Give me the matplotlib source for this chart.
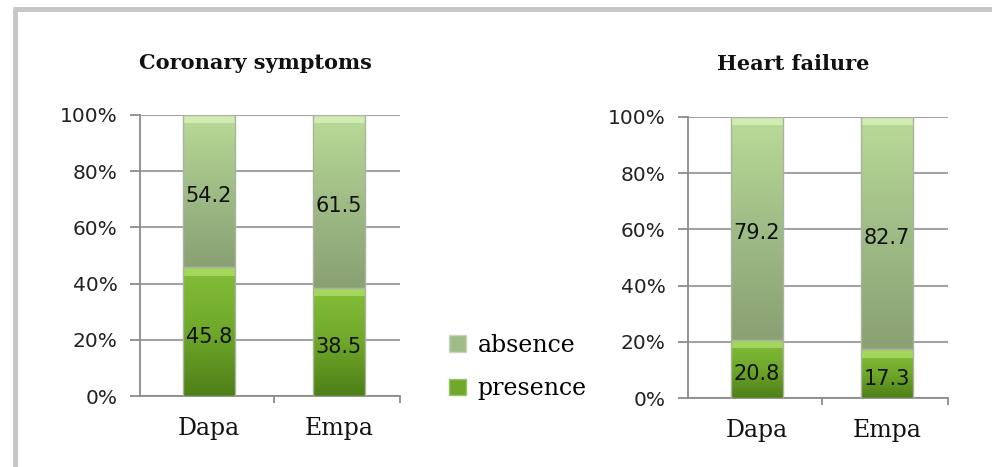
import numpy as np
import matplotlib
matplotlib.use("Agg")
import matplotlib.pyplot as plt
from matplotlib.colors import LinearSegmentedColormap
from matplotlib.patches import Rectangle, Patch
from matplotlib.lines import Line2D

# ---- data ----
categories = ["Dapa", "Empa"]
titles = ["Coronary symptoms", "Heart failure"]
coronary_presence = [45.8, 38.5]
coronary_absence = [54.2, 61.5]
hf_presence = [20.8, 17.3]
hf_absence = [79.2, 82.7]
yticks = [0, 20, 40, 60, 80, 100]
ytick_labels = ["0%", "20%", "40%", "60%", "80%", "100%"]
series_names = ["presence", "absence"]

W, H = 992, 467
fig = plt.figure(figsize=(W / 100, H / 100), dpi=100)
fig.patch.set_facecolor("white")

# outer frame (partially cropped in the reference)
fig.add_artist(Line2D([14.5 / W, 14.5 / W], [0, 1 - 8.5 / H], transform=fig.transFigure,
                      color="#c6c6c6", lw=3.5, solid_capstyle="butt"))
fig.add_artist(Line2D([13 / W, 1], [1 - 8.5 / H, 1 - 8.5 / H], transform=fig.transFigure,
                      color="#c6c6c6", lw=3.5, solid_capstyle="butt"))

pres_cmap = LinearSegmentedColormap.from_list("p", ["#4f7f18", "#6fa82a", "#84bf3a"])
abs_cmap = LinearSegmentedColormap.from_list("a", ["#8aa173", "#9fbc86", "#b9db97"])
pres_cap = "#a9dd62"
abs_cap = "#d6f0b8"

serif = "DejaVu Serif"
sans = "DejaVu Sans"


def fill_gradient(ax, bars, cmap, cap_color):
    grad = np.linspace(0, 1, 64).reshape(-1, 1)
    for b in bars:
        x0, y0 = b.get_x(), b.get_y()
        w, h = b.get_width(), b.get_height()
        im = ax.imshow(grad, extent=(x0, x0 + w, y0, y0 + h), origin="lower",
                       cmap=cmap, aspect="auto", zorder=b.get_zorder() + 0.1,
                       interpolation="bicubic")
        im.set_clip_path(b)
        # bevel highlight at the top of each segment
        cap_h = min(3.0, h * 0.3)
        ax.add_patch(Rectangle((x0, y0 + h - cap_h), w, cap_h, facecolor=cap_color,
                               edgecolor="none", alpha=0.85, zorder=b.get_zorder() + 0.2))
        ax.add_patch(Rectangle((x0, y0), w, h, facecolor="none",
                               edgecolor="#a9b3a0", lw=1.0, zorder=b.get_zorder() + 0.3))


def make_panel(rect_px, title, title_xc, title_yc, presence, absence):
    l, t, r, bt = rect_px
    ax = fig.add_axes([l / W, 1 - bt / H, (r - l) / W, (bt - t) / H])
    x = np.arange(len(categories))
    bw = 0.4
    pb = ax.bar(x, presence, width=bw, color="#6fa82a", edgecolor="none", zorder=3)
    ab = ax.bar(x, absence, width=bw, bottom=presence, color="#9fbc86",
                edgecolor="none", zorder=3)
    fill_gradient(ax, pb, pres_cmap, pres_cap)
    fill_gradient(ax, ab, abs_cmap, abs_cap)
    for i in range(len(categories)):
        ax.annotate(f"{presence[i]:.1f}", (x[i], presence[i] / 2), xytext=(0, -5),
                    textcoords="offset pixels", ha="center", va="center",
                    fontsize=15, family=sans, color="#111111", zorder=6)
        ax.annotate(f"{absence[i]:.1f}", (x[i], presence[i] + absence[i] / 2),
                    xytext=(0, -5), textcoords="offset pixels", ha="center",
                    va="center", fontsize=15, family=sans, color="#111111", zorder=6)
    ax.set_xlim(-0.53, len(categories) - 0.53)
    ax.set_ylim(0, 100)
    ax.set_yticks(yticks)
    ax.set_yticklabels(ytick_labels, fontsize=14.5, family=sans, color="#222222")
    ax.set_xticks(x)
    ax.set_xticklabels(categories, fontsize=17, family=serif, color="#111111")
    ax.set_xticks([0.5, 1.47], minor=True)
    ax.tick_params(axis="x", which="major", length=0, pad=15)
    ax.tick_params(axis="x", which="minor", length=5, color="#8c8c8c", width=1.3)
    ax.tick_params(axis="y", length=7, color="#8c8c8c", width=1.3, pad=9)
    for s in ["top", "right"]:
        ax.spines[s].set_visible(False)
    for s in ["left", "bottom"]:
        ax.spines[s].set_color("#8c8c8c")
        ax.spines[s].set_linewidth(1.3)
    ax.yaxis.grid(True, color="#a3a3a3", lw=1.5, zorder=0)
    ax.set_axisbelow(True)
    ax.text((title_xc - l) / (r - l), 1 + (t - title_yc) / (bt - t), title,
            transform=ax.transAxes, ha="center", va="center", fontsize=15,
            family=serif, fontweight="bold", color="#111111")
    return ax, pb, ab


ax1, pb1, ab1 = make_panel((140, 115, 400, 396), titles[0], 255, 63,
                           coronary_presence, coronary_absence)
ax2, pb2, ab2 = make_panel((688, 117, 948, 398), titles[1], 793, 64,
                           hf_presence, hf_absence)

handles = [Patch(facecolor="#9fbc86", edgecolor="#c9d6bd"),
           Patch(facecolor="#6fa82a", edgecolor="#9ac46a")]
fig.legend(handles, [series_names[1], series_names[0]], loc="center left",
           bbox_to_anchor=(428 / W, 1 - 367 / H), frameon=False,
           prop={"family": serif, "size": 17}, handlelength=0.7, handleheight=0.7,
           labelspacing=0.85, handletextpad=0.5)

fig.savefig("out.png", dpi=100, facecolor="white")
